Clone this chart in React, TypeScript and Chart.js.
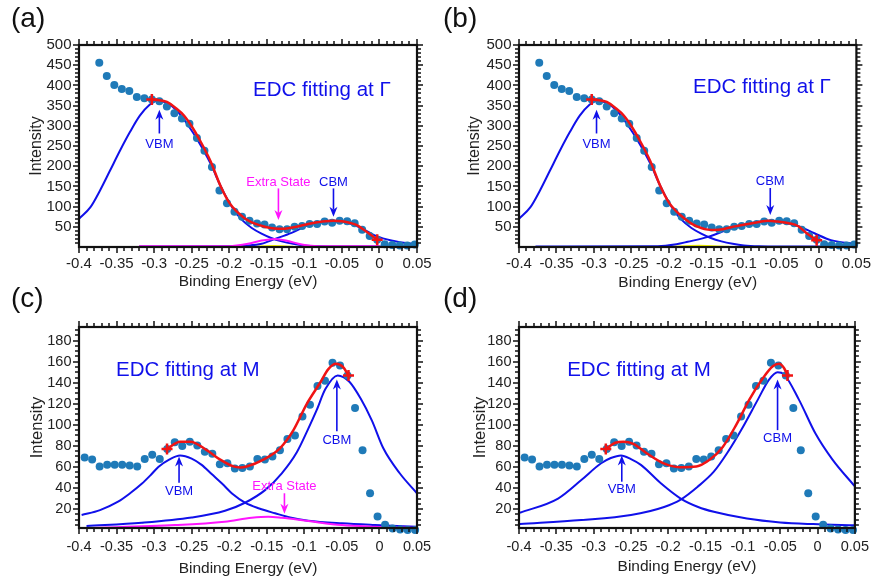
import React, { useEffect, useRef } from 'react';
import { Chart, registerables } from 'chart.js';
Chart.register(...registerables);

const FONT = "'Liberation Sans', Arial, Helvetica, sans-serif";

// ---------- shared axis ticks ----------
const xTicks = [-0.4, -0.35, -0.3, -0.25, -0.2, -0.15, -0.1, -0.05, 0, 0.05];
const xTickLabels = ['-0.4', '-0.35', '-0.3', '-0.25', '-0.2', '-0.15', '-0.1', '-0.05', '0', '0.05'];
const gammaYTicks = [50, 100, 150, 200, 250, 300, 350, 400, 450, 500];
const mYTicks = [20, 40, 60, 80, 100, 120, 140, 160, 180];

// ---------- EDC at Gamma (panels a, b) ----------
const gammaEnergy = [
  -0.373, -0.363, -0.353, -0.343, -0.333, -0.323, -0.313, -0.303, -0.293, -0.283,
  -0.273, -0.263, -0.253, -0.243, -0.233, -0.223, -0.213, -0.203, -0.193, -0.183,
  -0.173, -0.163, -0.153, -0.143, -0.133, -0.123, -0.113, -0.103, -0.093, -0.083,
  -0.073, -0.063, -0.053, -0.043, -0.033, -0.023, -0.013, -0.003, 0.007, 0.017,
  0.027, 0.037, 0.047,
];
const gammaIntensity = [
  456, 423, 401, 391, 386, 371, 368, 365, 361, 348,
  331, 318, 305, 270, 238, 198, 140, 108, 87, 75,
  65, 58, 56, 48, 44, 44, 50, 52, 57, 57,
  63, 60, 65, 64, 59, 43, 27, 18, 7, 5,
  4, 4, 6,
];
const gammaVbm: [number, number][] = [
  [-0.4, 70], [-0.385, 98], [-0.372, 140], [-0.359, 188], [-0.345, 240], [-0.332, 285],
  [-0.319, 325], [-0.306, 352], [-0.296, 362], [-0.285, 358], [-0.27, 338], [-0.255, 302],
  [-0.24, 258], [-0.225, 207], [-0.21, 145], [-0.195, 95], [-0.183, 67], [-0.17, 47],
  [-0.157, 33], [-0.145, 23], [-0.13, 14], [-0.115, 8], [-0.1, 4], [-0.08, 2], [-0.05, 1.5], [0.05, 1.5],
];
const gammaFitA: [number, number][] = [
  [-0.303, 365], [-0.295, 364], [-0.283, 359], [-0.27, 342], [-0.26, 325], [-0.25, 299],
  [-0.239, 264], [-0.225, 213], [-0.212, 153], [-0.2, 110], [-0.19, 88], [-0.18, 72],
  [-0.17, 61], [-0.16, 54], [-0.15, 49], [-0.14, 46], [-0.13, 45], [-0.12, 47],
  [-0.106, 52], [-0.095, 57], [-0.083, 61], [-0.072, 64], [-0.061, 65], [-0.05, 64],
  [-0.04, 60], [-0.03, 54], [-0.019, 40], [-0.01, 28], [-0.003, 18],
];
const gammaCbmA: [number, number][] = [
  [-0.32, 1.5], [-0.2, 2], [-0.175, 3.5], [-0.157, 8], [-0.139, 20], [-0.117, 35],
  [-0.095, 54], [-0.08, 62], [-0.065, 65], [-0.05, 63], [-0.028, 50], [-0.004, 27],
  [0.016, 16], [0.038, 9], [0.05, 8],
];
const gammaExtraA: [number, number][] = [
  [-0.32, 2], [-0.2, 2], [-0.19, 3.5], [-0.175, 8], [-0.157, 16], [-0.139, 20],
  [-0.122, 15], [-0.108, 8], [-0.095, 4], [-0.08, 2], [0, 2],
];
const gammaYellowA: [number, number][] = [[-0.17, 0.5], [-0.14, 2.5], [-0.115, 0.5]];

const gammaFitB: [number, number][] = [
  [-0.303, 365], [-0.295, 364], [-0.283, 359], [-0.27, 342], [-0.26, 325], [-0.25, 299],
  [-0.239, 264], [-0.225, 213], [-0.212, 153], [-0.2, 110], [-0.19, 88], [-0.183, 76],
  [-0.17, 58], [-0.157, 47], [-0.148, 43], [-0.139, 42], [-0.128, 44], [-0.117, 49],
  [-0.106, 53], [-0.095, 57], [-0.08, 62], [-0.068, 65], [-0.055, 63], [-0.04, 59],
  [-0.028, 52], [-0.015, 32], [-0.003, 17],
];
const gammaCbmB: [number, number][] = [
  [-0.378, 1.5], [-0.215, 2], [-0.19, 7], [-0.175, 13], [-0.148, 25], [-0.117, 46],
  [-0.095, 57], [-0.068, 65], [-0.05, 62], [-0.028, 52], [-0.006, 34], [0.016, 17], [0.05, 7],
];
const gammaYellowB: [number, number][] = [[-0.2, 0.5], [-0.16, 3], [-0.12, 0.5]];

// ---------- EDC at M (panels c, d) ----------
const mEnergy = [
  -0.3925, -0.3825, -0.3725, -0.3625, -0.3525, -0.3425, -0.3325, -0.3225, -0.3125, -0.3025,
  -0.2925, -0.2825, -0.2725, -0.2625, -0.2525, -0.2425, -0.2325, -0.2225, -0.2125, -0.2025,
  -0.1925, -0.1825, -0.1725, -0.1625, -0.1525, -0.1425, -0.1325, -0.1225, -0.1125, -0.1025,
  -0.0925, -0.0825, -0.0725, -0.0625, -0.0525, -0.0425, -0.0325, -0.0225, -0.0125, -0.0025,
  0.0075, 0.0175, 0.0275, 0.0375, 0.0475,
];
const mIntensity = [
  69, 67, 60.5, 62, 62, 62, 61.5, 60.5, 67.5, 71.5,
  67.5, 77, 83.5, 80, 84, 80.5, 74.5, 72.5, 62.5, 63.5,
  58.5, 59, 60.5, 67.5, 67, 70, 76, 86.5, 90, 108,
  119, 137, 142, 159, 156.5, 147, 116, 76, 35, 13,
  5, 1.5, 0.5, 0, 0,
];
const mVbmC: [number, number][] = [
  [-0.3965, 14.3], [-0.372, 19], [-0.348, 27], [-0.332, 35], [-0.3165, 44], [-0.305, 52],
  [-0.2944, 60], [-0.28, 67], [-0.2655, 71], [-0.25, 68], [-0.2367, 62], [-0.223, 53],
  [-0.21, 44.5], [-0.195, 34], [-0.179, 26], [-0.16, 20.5], [-0.139, 16], [-0.119, 12],
  [-0.0947, 9], [-0.05, 6.4], [-0.006, 4.8], [0.05, 3.2],
];
const mCbmC: [number, number][] = [
  [-0.39, 3.8], [-0.3165, 7], [-0.25, 12], [-0.2056, 18.4], [-0.179, 26], [-0.1523, 38],
  [-0.13, 54], [-0.11, 74], [-0.095, 96], [-0.0836, 114], [-0.072, 134], [-0.0556, 147],
  [-0.04, 141], [-0.025, 125], [-0.01, 104], [0.005, 78], [0.027, 54], [0.05, 35],
];
const mExtraC: [number, number][] = [
  [-0.39, 2], [-0.272, 4.8], [-0.206, 8], [-0.17, 11.7], [-0.148, 12.7], [-0.13, 11.7],
  [-0.0947, 8.6], [-0.05, 4.8], [-0.006, 3.2], [0.05, 2],
];
const mFitC: [number, number][] = [
  [-0.2828, 77], [-0.2655, 84], [-0.252, 84], [-0.23, 76], [-0.212, 67], [-0.1944, 60.5],
  [-0.185, 59.5], [-0.1767, 60.5], [-0.1545, 67], [-0.1322, 78], [-0.1145, 95], [-0.0967, 120],
  [-0.079, 140], [-0.068, 153], [-0.058, 158], [-0.0485, 155], [-0.0412, 147],
];
const mVbmD: [number, number][] = [
  [-0.3987, 16.5], [-0.3477, 30], [-0.3165, 47.6], [-0.29, 63.5], [-0.277, 68.5], [-0.2633, 71],
  [-0.25, 67.5], [-0.2367, 62], [-0.21, 44.5], [-0.1834, 30], [-0.16, 22], [-0.139, 17.4],
  [-0.0947, 11], [-0.05, 7.3], [-0.006, 5.7], [0.05, 4.5],
];
const mCbmD: [number, number][] = [
  [-0.3987, 5.7], [-0.3165, 9.5], [-0.25, 14.3], [-0.2056, 22], [-0.1834, 29], [-0.161, 41],
  [-0.139, 55.5], [-0.1213, 73], [-0.1, 98], [-0.08, 124], [-0.065, 143], [-0.0536, 150],
  [-0.045, 148], [-0.025, 124], [-0.003, 92], [0.02, 67], [0.05, 41.5],
];
const mFitD: [number, number][] = [
  [-0.2837, 77], [-0.271, 83], [-0.26, 84], [-0.2468, 82], [-0.229, 73], [-0.207, 63.6],
  [-0.1846, 59.8], [-0.1624, 60.5], [-0.1447, 66.8], [-0.127, 79], [-0.109, 100], [-0.0914, 124],
  [-0.0736, 144], [-0.06, 155.7], [-0.0514, 158], [-0.045, 154], [-0.0403, 147],
];

// ---------- colours ----------
const BLUE = '#1010ea';
const RED = '#f01414';
const MAGENTA = '#ff14ff';
const YELLOW = '#f5f500';
const DOT = '#1f7ab8';
const TXT = '#222';

type Note = { text: string; x: number; y: number; color: string; size: number; arrow?: [number, number, number, number] };

const notesA: Note[] = [
  { text: 'EDC fitting at Γ', x: -0.0767, y: 388, color: BLUE, size: 20.5 },
  { text: 'VBM', x: -0.293, y: 254, color: BLUE, size: 13, arrow: [-0.293, 281, -0.293, 340] },
  { text: 'Extra State', x: -0.1345, y: 159, color: MAGENTA, size: 13, arrow: [-0.1345, 145, -0.1345, 67] },
  { text: 'CBM', x: -0.0612, y: 159, color: BLUE, size: 13, arrow: [-0.0612, 145, -0.0612, 75] },
];
const notesB: Note[] = [
  { text: 'EDC fitting at Γ', x: -0.076, y: 395, color: BLUE, size: 20.5 },
  { text: 'VBM', x: -0.2966, y: 255, color: BLUE, size: 13, arrow: [-0.2966, 281, -0.2966, 340] },
  { text: 'CBM', x: -0.0649, y: 162, color: BLUE, size: 13, arrow: [-0.0649, 146, -0.0649, 79] },
];
const notesC: Note[] = [
  { text: 'EDC fitting at M', x: -0.2552, y: 152, color: BLUE, size: 20.5 },
  { text: 'VBM', x: -0.2668, y: 36.8, color: BLUE, size: 13, arrow: [-0.2668, 45, -0.2668, 70] },
  { text: 'CBM', x: -0.0567, y: 85, color: BLUE, size: 13, arrow: [-0.0567, 94, -0.0567, 143] },
  { text: 'Extra State', x: -0.1265, y: 41.5, color: MAGENTA, size: 13, arrow: [-0.1265, 35, -0.1265, 15.6] },
];
const notesD: Note[] = [
  { text: 'EDC fitting at M', x: -0.2393, y: 152, color: BLUE, size: 20.5 },
  { text: 'VBM', x: -0.2623, y: 38.3, color: BLUE, size: 13, arrow: [-0.2623, 46, -0.2623, 71] },
  { text: 'CBM', x: -0.0536, y: 87.4, color: BLUE, size: 13, arrow: [-0.0536, 95, -0.0536, 143] },
];

function drawArrow(ctx: CanvasRenderingContext2D, x1: number, y1: number, x2: number, y2: number, color: string) {
  const ang = Math.atan2(y2 - y1, x2 - x1);
  const hl = 10, hw = 4;
  const bx = x2 - hl * Math.cos(ang), by = y2 - hl * Math.sin(ang);
  ctx.strokeStyle = color;
  ctx.fillStyle = color;
  ctx.lineWidth = 1.6;
  ctx.beginPath();
  ctx.moveTo(x1, y1);
  ctx.lineTo(x2 - (hl - 3) * Math.cos(ang), y2 - (hl - 3) * Math.sin(ang));
  ctx.stroke();
  ctx.beginPath();
  ctx.moveTo(x2, y2);
  ctx.lineTo(bx + hw * Math.sin(ang), by - hw * Math.cos(ang));
  ctx.lineTo(x2 - (hl - 3) * Math.cos(ang), y2 - (hl - 3) * Math.sin(ang));
  ctx.lineTo(bx - hw * Math.sin(ang), by + hw * Math.cos(ang));
  ctx.closePath();
  ctx.fill();
}

const framePlugin = {
  id: 'frame',
  afterDraw(chart: any, _args: any, opts: any) {
    const ctx: CanvasRenderingContext2D = chart.ctx;
    const { left, right, top, bottom } = chart.chartArea;
    const xs = chart.scales.x, ys = chart.scales.y;
    ctx.save();
    for (const n of opts.notes as Note[]) {
      ctx.fillStyle = n.color;
      ctx.font = `${n.size}px ${FONT}`;
      ctx.textAlign = 'center';
      ctx.textBaseline = 'middle';
      ctx.fillText(n.text, xs.getPixelForValue(n.x), ys.getPixelForValue(n.y));
      if (n.arrow) {
        const [ax1, ay1, ax2, ay2] = n.arrow;
        drawArrow(ctx, xs.getPixelForValue(ax1), ys.getPixelForValue(ay1), xs.getPixelForValue(ax2), ys.getPixelForValue(ay2), n.color);
      }
    }
    ctx.strokeStyle = '#111';
    ctx.lineWidth = 1.5;
    ctx.beginPath();
    for (let i = 0; i <= 45; i++) {
      const v = -0.4 + i * 0.01;
      const p = Math.round(xs.getPixelForValue(v));
      const len = i % 5 === 0 ? 6 : 4;
      ctx.moveTo(p, bottom); ctx.lineTo(p, bottom + len);
      ctx.moveTo(p, top); ctx.lineTo(p, top - len);
    }
    for (let v = opts.yMinor; v <= ys.max + 1e-9; v += opts.yMinor) {
      if (v < ys.min) continue;
      const p = Math.round(ys.getPixelForValue(v));
      const len = Math.abs(v / opts.yMajor - Math.round(v / opts.yMajor)) < 1e-6 ? 6 : 4;
      ctx.moveTo(left, p); ctx.lineTo(left - len, p);
      ctx.moveTo(right, p); ctx.lineTo(right + len, p);
    }
    ctx.stroke();
    ctx.lineWidth = 2.2;
    ctx.strokeStyle = '#111';
    ctx.strokeRect(left, top, right - left, bottom - top);
    ctx.restore();
  },
};

const pts = (arr: [number, number][]) => arr.map(([x, y]) => ({ x, y }));
const curve = (arr: [number, number][], color: string, width: number, order: number) => ({
  data: pts(arr), showLine: true, borderColor: color, borderWidth: width, pointRadius: 0,
  fill: false, cubicInterpolationMode: 'monotone', order,
});

type PanelCfg = {
  left: number; top: number; w: number; h: number;
  padLeft: number; padTop: number; padRight: number; yAxisW: number; xAxisH: number;
  yMin: number; yMax: number; yTicks: number[]; yMinor: number; yMajor: number;
  tickSize: number; xTickPad: number; yTitleSize: number;
  energy: number[]; intensity: number[]; fit: [number, number][];
  blues: [number, number][][]; magenta?: [number, number][]; yellow?: [number, number][]; notes: Note[];
};

const panels: PanelCfg[] = [
  {
    left: 0, top: 0, w: 437, h: 295, padLeft: 23, padTop: 45, padRight: 20, yAxisW: 56, xAxisH: 48,
    yMin: 0, yMax: 500, yTicks: gammaYTicks, yMinor: 10, yMajor: 50, tickSize: 15, xTickPad: 3, yTitleSize: 16,
    energy: gammaEnergy, intensity: gammaIntensity, fit: gammaFitA, blues: [gammaVbm, gammaCbmA],
    magenta: gammaExtraA, yellow: gammaYellowA, notes: notesA,
  },
  {
    left: 440, top: 0, w: 434, h: 296, padLeft: 21, padTop: 45, padRight: 17, yAxisW: 58, xAxisH: 49,
    yMin: 0, yMax: 500, yTicks: gammaYTicks, yMinor: 10, yMajor: 50, tickSize: 15, xTickPad: 3, yTitleSize: 16,
    energy: gammaEnergy, intensity: gammaIntensity, fit: gammaFitB, blues: [gammaVbm, gammaCbmB],
    yellow: gammaYellowB, notes: notesB,
  },
  {
    left: 0, top: 290, w: 437, h: 292, padLeft: 24, padTop: 37, padRight: 20, yAxisW: 55, xAxisH: 54,
    yMin: 2, yMax: 193, yTicks: mYTicks, yMinor: 5, yMajor: 20, tickSize: 14.5, xTickPad: 5, yTitleSize: 16.5,
    energy: mEnergy, intensity: mIntensity, fit: mFitC, blues: [mVbmC, mCbmC],
    magenta: mExtraC, notes: notesC,
  },
  {
    left: 440, top: 290, w: 434, h: 290, padLeft: 27, padTop: 37, padRight: 17, yAxisW: 52, xAxisH: 52,
    yMin: 2, yMax: 193, yTicks: mYTicks, yMinor: 5, yMajor: 20, tickSize: 14.5, xTickPad: 5, yTitleSize: 16.5,
    energy: mEnergy, intensity: mIntensity, fit: mFitD, blues: [mVbmD, mCbmD], notes: notesD,
  },
];

const panelLabels = [
  { text: '(a)', left: 11, top: 4 },
  { text: '(b)', left: 443, top: 4 },
  { text: '(c)', left: 11, top: 284 },
  { text: '(d)', left: 443, top: 284 },
];

function Panel({ cfg }: { cfg: PanelCfg }) {
  const ref = useRef<HTMLCanvasElement>(null);
  useEffect(() => {
    const datasets: any[] = [];
    const fit = cfg.fit;
    datasets.push({
      data: pts([fit[0], fit[fit.length - 1]]), showLine: false, pointStyle: 'cross', pointRadius: 5.5,
      pointBorderColor: RED, pointBorderWidth: 2.5, pointBackgroundColor: RED, clip: false, order: 0,
    });
    datasets.push(curve(fit, RED, 2.5, 1));
    datasets.push({
      data: cfg.energy.map((x, i) => ({ x, y: cfg.intensity[i] })), showLine: false, pointRadius: 4,
      pointBackgroundColor: DOT, pointBorderWidth: 0, pointBorderColor: DOT, clip: false, order: 2,
    });
    if (cfg.magenta) datasets.push(curve(cfg.magenta, MAGENTA, 2, 3));
    cfg.blues.forEach((b) => datasets.push(curve(b, BLUE, 2, 4)));
    if (cfg.yellow) datasets.push(curve(cfg.yellow, YELLOW, 2, 5));

    const chart = new Chart(ref.current as HTMLCanvasElement, {
      type: 'scatter',
      data: { datasets },
      plugins: [framePlugin as any],
      options: {
        responsive: false,
        maintainAspectRatio: false,
        animation: false,
        events: [],
        layout: { padding: { left: cfg.padLeft, top: cfg.padTop, right: cfg.padRight, bottom: 0 } },
        plugins: {
          legend: { display: false },
          tooltip: { enabled: false },
          frame: { notes: cfg.notes, yMinor: cfg.yMinor, yMajor: cfg.yMajor },
        } as any,
        scales: {
          x: {
            type: 'linear', min: -0.4, max: 0.05,
            afterBuildTicks: (s: any) => { s.ticks = xTicks.map((v) => ({ value: v })); },
            afterFit: (s: any) => { s.height = cfg.xAxisH; },
            ticks: {
              autoSkip: false, maxRotation: 0, padding: cfg.xTickPad, color: TXT,
              font: { family: FONT, size: cfg.tickSize },
              callback: (v: any) => {
                const i = xTicks.findIndex((t) => Math.abs(t - Number(v)) < 1e-9);
                return i >= 0 ? xTickLabels[i] : '';
              },
            },
            grid: { display: false, drawTicks: true, tickLength: 5 },
            border: { display: false },
            title: { display: true, text: 'Binding Energy (eV)', color: TXT, font: { family: FONT, size: 15.5 }, padding: { top: 0, bottom: 4 } },
          },
          y: {
            type: 'linear', min: cfg.yMin, max: cfg.yMax,
            afterBuildTicks: (s: any) => { s.ticks = cfg.yTicks.map((v) => ({ value: v })); },
            afterFit: (s: any) => { s.width = cfg.yAxisW; },
            ticks: {
              autoSkip: false, padding: 2.5, color: TXT,
              font: { family: FONT, size: cfg.tickSize },
              callback: (v: any) => String(v),
            },
            grid: { display: false, drawTicks: true, tickLength: 5 },
            border: { display: false },
            title: { display: true, text: 'Intensity', color: TXT, font: { family: FONT, size: cfg.yTitleSize }, padding: { top: 4, bottom: 0 } },
          },
        },
      } as any,
    });
    return () => chart.destroy();
  }, [cfg]);
  return (
    <canvas
      ref={ref}
      width={cfg.w}
      height={cfg.h}
      style={{ position: 'absolute', left: cfg.left, top: cfg.top, width: cfg.w, height: cfg.h }}
    />
  );
}

export default function App() {
  return (
    <div style={{ position: 'absolute', left: 0, top: 0, width: 874, height: 588, overflow: 'hidden', background: '#fff' }}>
      {panels.map((p, i) => (
        <Panel key={i} cfg={p} />
      ))}
      {panelLabels.map((l) => (
        <div
          key={l.text}
          style={{ position: 'absolute', left: l.left, top: l.top, fontFamily: FONT, fontSize: 28, lineHeight: '28px', color: '#111' }}
        >
          {l.text}
        </div>
      ))}
    </div>
  );
}
